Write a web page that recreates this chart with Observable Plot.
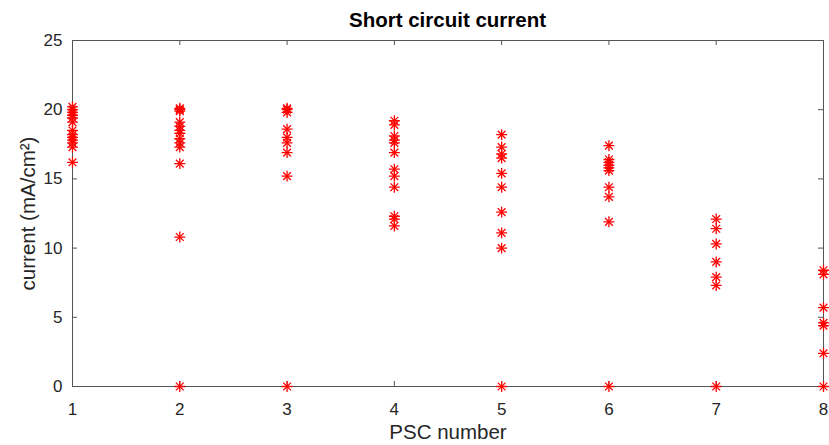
<!DOCTYPE html>
<html><head><meta charset="utf-8">
<script src="https://cdn.jsdelivr.net/npm/d3@7"></script>
<script src="https://cdn.jsdelivr.net/npm/@observablehq/plot@0.6"></script>
<style>
body{margin:0;background:#fff;font-family:"Liberation Sans",Arial,Helvetica,sans-serif;}
#title{width:829px;box-sizing:border-box;padding-left:72px;padding-right:6px;height:28px;text-align:center;font-weight:bold;font-size:20.5px;line-height:20px;padding-top:10px;color:#000;}
#chart svg{display:block;}
</style></head><body>
<div id="title">Short circuit current</div>
<div id="chart"></div>
<script>
const psc1 = [20.2, 20.0, 19.8, 19.6, 19.4, 19.1, 18.5, 18.2, 18.0, 17.8, 17.6, 17.3, 16.2];
const psc2 = [20.1, 20.0, 19.9, 19.1, 18.8, 18.5, 18.3, 17.9, 17.6, 17.3, 16.1, 10.8, 0];
const psc3 = [20.1, 20.0, 19.8, 18.6, 18.0, 17.6, 16.9, 15.2, 0];
const psc4 = [19.2, 18.9, 18.1, 17.8, 17.6, 16.9, 15.7, 15.2, 14.4, 12.3, 12.1, 11.6];
const psc5 = [18.2, 17.3, 16.8, 16.5, 15.4, 14.4, 12.6, 11.1, 10.0, 0];
const psc6 = [17.4, 16.4, 16.2, 16.0, 15.8, 15.6, 14.4, 13.7, 11.9, 0];
const psc7 = [12.1, 11.4, 10.3, 9.0, 7.9, 7.3, 0];
const psc8 = [8.4, 8.1, 5.7, 4.6, 4.4, 2.4, 0];
const xTicks = [1, 2, 3, 4, 5, 6, 7, 8];
const yTicks = [0, 5, 10, 15, 20, 25];

const series = [psc1, psc2, psc3, psc4, psc5, psc6, psc7, psc8];
const data = series.flatMap((vals, i) => vals.map(v => ({psc: i + 1, current: v})));

const W = 829, H = 417, mL = 72, mR = 6, mT = 12, mB = 59;
const pw = W - mL - mR, ph = H - mT - mB, tk = 5;
const textColor = "#262626";
const lineColor = "#555555";

const chart = Plot.plot({
  width: W, height: H,
  marginLeft: mL, marginRight: mR, marginTop: mT, marginBottom: mB,
  style: {fontFamily: '"Liberation Sans", Arial, Helvetica, sans-serif', background: "#fff", overflow: "visible"},
  x: {domain: [1, 8]},
  y: {domain: [0, 25]},
  marks: [
    Plot.axisX({ticks: xTicks, tickSize: 0, tickPadding: 16, fontSize: 17, color: textColor, label: null, tickFormat: d => String(d)}),
    Plot.axisY({ticks: yTicks, tickSize: 0, tickPadding: 10, fontSize: 17, color: textColor, label: null, tickFormat: d => String(d)}),
    Plot.ruleY(yTicks, {insetRight: pw - tk, stroke: lineColor, strokeWidth: 1}),
    Plot.ruleY(yTicks, {insetLeft: pw - tk, stroke: lineColor, strokeWidth: 1}),
    Plot.ruleX(xTicks, {insetTop: ph - tk, stroke: lineColor, strokeWidth: 1}),
    Plot.ruleX(xTicks, {insetBottom: ph - tk, stroke: lineColor, strokeWidth: 1}),
    Plot.frame({stroke: lineColor, strokeWidth: 1}),
    Plot.text(["PSC number"], {frameAnchor: "bottom", dy: 46, fontSize: 20.5, fill: textColor, lineAnchor: "middle"}),
    Plot.text(["current (mA/cm²)"], {frameAnchor: "left", dx: -44, rotate: -90, fontSize: 20.5, fill: textColor, textAnchor: "middle"}),
    Plot.dot(data, {x: "psc", y: "current", symbol: "plus", r: 3.6, stroke: "#ff0000", strokeWidth: 1.3}),
    Plot.dot(data, {x: "psc", y: "current", symbol: "times", r: 3.6, stroke: "#ff0000", strokeWidth: 1.3})
  ]
});
document.getElementById("chart").appendChild(chart);
</script>
</body></html>
